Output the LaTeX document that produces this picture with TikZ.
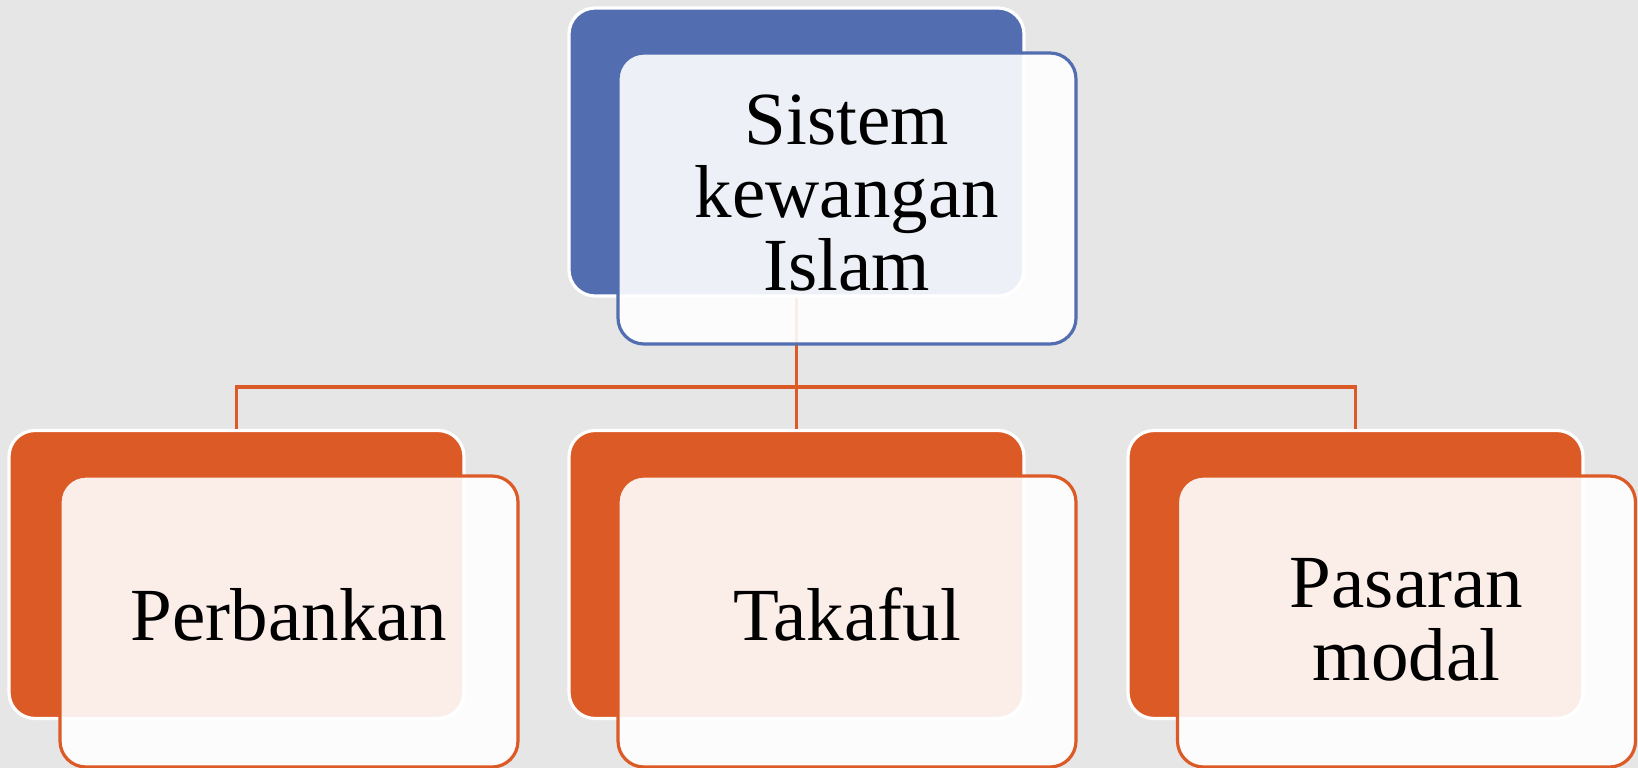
\documentclass[tikz,border=0pt]{standalone}
\usepackage{fontspec}
\setmainfont{Liberation Serif}
\definecolor{bgc}{RGB}{230,230,230}
\definecolor{blueC}{RGB}{82,110,176}
\definecolor{orangeC}{RGB}{220,90,37}
\tikzset{
  backbox/.style={draw=white, line width=3.2pt, rounded corners=26pt,
    minimum width=455pt, minimum height=288pt, inner sep=0pt},
  frontbox/.style={line width=3.2pt, rounded corners=26pt, fill=white,
    fill opacity=0.9, minimum width=458pt, minimum height=291pt, inner sep=0pt},
  boxtext/.style={inner sep=0pt, align=center, font=\fontsize{75}{73}\selectfont},
  conn/.style={draw=orangeC, line width=3.2pt}
}
\begin{document}
\begin{tikzpicture}[x=1pt,y=-1pt]
\fill[bgc] (0,0) rectangle (1638,768);
\useasboundingbox (0,0) rectangle (1638,768);
% back boxes
\node[backbox, fill=blueC] (tb) at (796.5,152) {};
\node[backbox, fill=orangeC] (b1) at (236.5,574.5) {};
\node[backbox, fill=orangeC] (b2) at (796.5,574.5) {};
\node[backbox, fill=orangeC] (b3) at (1355.5,574.5) {};
% connectors
\coordinate (bus) at (0,387);
\draw[conn] (tb.south) -- (b2.north);
\draw[conn] (b1.north) -- (b1.north |- bus) -- (b3.north |- bus) -- (b3.north);
% front boxes
\node[frontbox, draw=blueC] (tf) at (847,198.5) {};
\node[frontbox, draw=orangeC] (f1) at (289,621.5) {};
\node[frontbox, draw=orangeC] (f2) at (847,621.5) {};
\node[frontbox, draw=orangeC] (f3) at (1406.5,621.5) {};
% texts
\node[boxtext, yshift=5pt] (t0) at (tf.center) {Sistem\\kewangan\\Islam};
\node[boxtext, yshift=7pt] (t1) at (f1.center) {Perbankan};
\node[boxtext, yshift=7pt] (t2) at (f2.center) {Takaful};
\node[boxtext, yshift=2pt] (t3) at (f3.center) {Pasaran\\modal};
\end{tikzpicture}
\end{document}
